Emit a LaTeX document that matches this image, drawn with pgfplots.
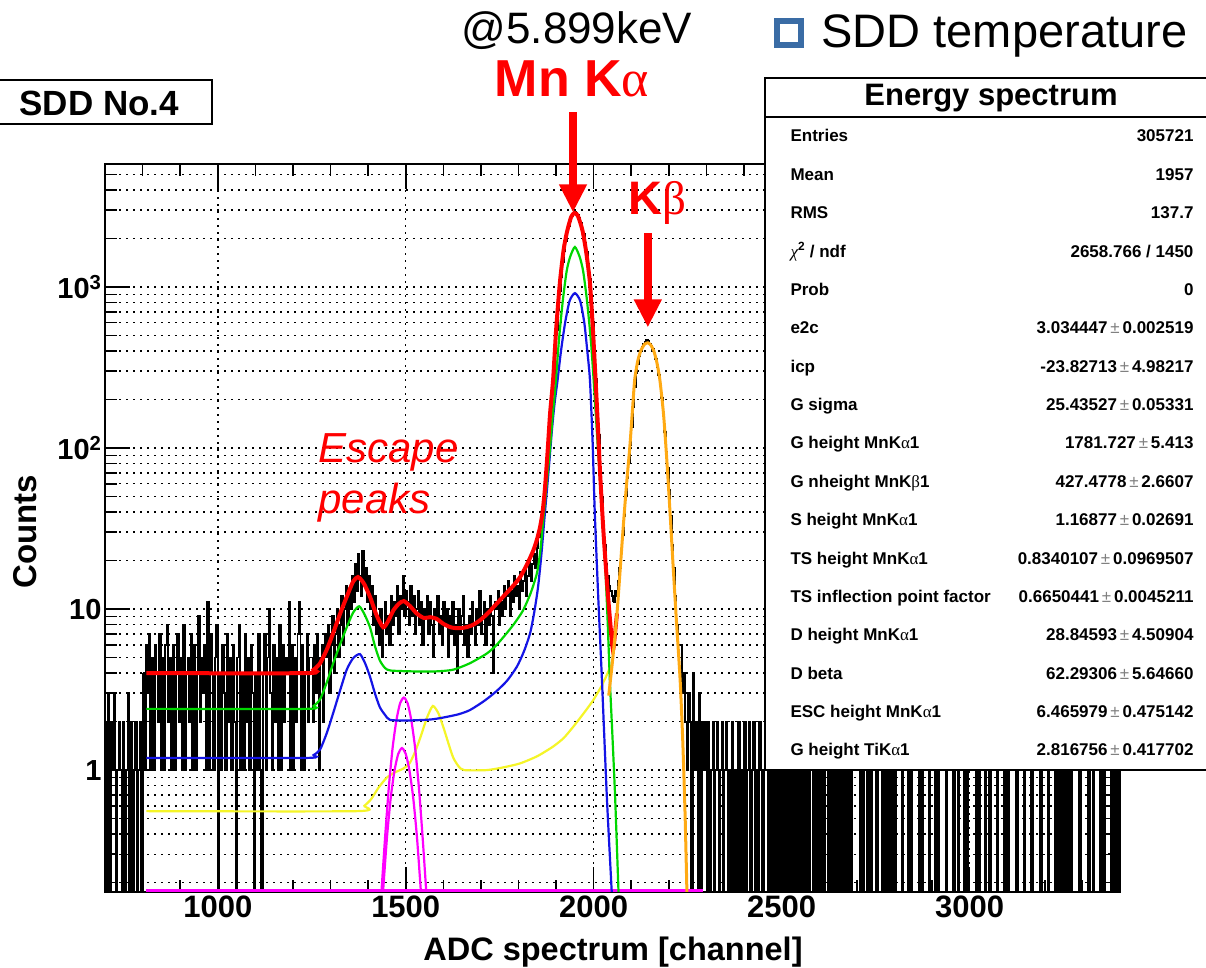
\documentclass[border=0pt]{standalone}
\usepackage{fontspec}
\setmainfont{Liberation Sans}
\newfontfamily\greekfont{Liberation Serif}
\usepackage{pgfplots}
\pgfplotsset{compat=1.18}
\usetikzlibrary{arrows.meta,calc}

\definecolor{rootgreen}{RGB}{0,215,0}
\definecolor{rootblue}{RGB}{20,20,230}
\definecolor{rootyellow}{RGB}{245,245,40}
\definecolor{rootmagenta}{RGB}{255,0,255}
\definecolor{rootorange}{RGB}{255,170,20}
\definecolor{markblue}{RGB}{58,108,165}

\newcommand\statfont{\fontsize{17}{17}\selectfont\bfseries}
\newcommand\pmsym{\,\textcolor{black!50}{\mdseries ±}\,}
\newcommand\ga{{\greekfont\mdseries α}}
\newcommand\gb{{\greekfont\mdseries β}}
\newcommand\srow[3]{%
  \node[anchor=base west, font=\statfont] at (787,{826-38.375*#1}) {#2};%
  \node[anchor=base east, font=\statfont] at (1197,{826-38.375*#1}) {#3};}

\pgfplotsset{hist/.style={black, line width=1.9pt, const plot, mark=none}}
% one block of 4-channel bins starting at channel #1; empty bins are drawn down to the frame
\newcommand\histblock[2]{%
  \addplot[hist] table[header=false, row sep=\\, x expr=#1+4*\coordindex,
    y expr={max(\thisrowno{0},0.05)}] {#2};}

\begin{document}
\begin{tikzpicture}[x=1pt,y=1pt]
\useasboundingbox (0,0) rectangle (1206,968);
\fill[white] (0,0) rectangle (1206,968);

\begin{axis}[
  at={(105pt,76pt)}, anchor=south west,
  scale only axis, width=1015pt, height=728pt,
  xmin=700, xmax=3400,
  ymode=log, ymin=0.175, ymax=5800,
  xtick={1000,1500,2000,2500,3000},
  xticklabels={1000,1500,2000,2500,3000},
  minor xtick={800,900,1100,1200,1300,1400,1600,1700,1800,1900,2100,2200,2300,2400,2600,2700,2800,2900,3100,3200,3300},
  ytick={1,10,100,1000},
  yticklabels={1,10,10\textsuperscript{2},10\textsuperscript{3}},
  minor ytick={0.2,0.3,0.4,0.5,0.6,0.7,0.8,0.9,2,3,4,5,6,7,8,9,20,30,40,50,60,70,80,90,200,300,400,500,600,700,800,900,2000,3000,4000,5000},
  xmajorgrids=true, ymajorgrids=true, yminorgrids=true,
  major grid style={black, line width=1.5pt, dash pattern=on 1.6pt off 5.4pt},
  minor grid style={black, line width=1.5pt, dash pattern=on 1.6pt off 5.4pt},
  axis line style={black, line width=2pt},
  major tick length=25pt, minor tick length=12pt,
  tick style={black, line width=1.6pt},
  xticklabel style={font=\fontsize{31}{31}\selectfont\bfseries},
  yticklabel style={font=\fontsize{29}{29}\selectfont\bfseries},
]

% ---- measured spectrum, 4 channels per bin ----
% 700-796
\histblock{700}{2\\0\\3\\0\\2\\1\\3\\0\\1\\2\\
1\\0\\2\\0\\1\\3\\0\\2\\0\\1\\
2\\0\\1\\2\\0\\4\\}
% 800-1244
\histblock{800}{4\\1\\6\\3\\7\\1\\5\\1\\6\\4\\
2\\7\\1\\5\\1\\6\\8\\2\\5\\1\\
6\\1\\4\\7\\2\\5\\1\\8\\1\\4\\
5\\2\\7\\1\\6\\1\\4\\9\\2\\5\\
3\\6\\1\\11\\1\\7\\4\\1\\5\\8\\
0\\4\\1\\6\\3\\1\\7\\2\\5\\1\\
6\\2\\0\\5\\8\\1\\4\\1\\7\\2\\
5\\1\\6\\3\\0\\4\\1\\7\\1\\0\\
4\\7\\1\\5\\10\\3\\1\\6\\2\\5\\
1\\8\\1\\6\\2\\5\\4\\11\\1\\6\\
1\\5\\2\\7\\11\\1\\6\\1\\4\\7\\
2\\5\\5\\}
% 1248-1420: first escape peak
\histblock{1248}{5\\2\\6\\3\\7\\1\\5\\6\\2\\7\\
5\\8\\3\\6\\9\\4\\7\\10\\5\\8\\
12\\6\\10\\14\\8\\13\\10\\16\\11\\19\\
13\\22\\16\\12\\23\\14\\18\\11\\16\\10\\
14\\8\\12\\7\\9\\}
% 1424-1848
\histblock{1424}{9\\6\\10\\5\\8\\11\\7\\9\\6\\12\\
8\\11\\9\\14\\7\\12\\10\\16\\9\\13\\
11\\8\\14\\9\\12\\7\\10\\13\\8\\11\\
6\\10\\9\\12\\7\\11\\8\\5\\10\\9\\
12\\7\\9\\6\\11\\8\\10\\5\\9\\7\\
11\\6\\8\\4\\10\\7\\9\\12\\6\\8\\
5\\9\\7\\11\\8\\6\\10\\8\\13\\7\\
9\\11\\6\\10\\8\\12\\9\\4\\11\\10\\
13\\8\\11\\9\\14\\10\\12\\15\\9\\13\\
11\\16\\12\\14\\10\\17\\13\\15\\18\\12\\
16\\20\\15\\19\\22\\18\\24\\28\\}
% 1852-2048: Mn K alpha
\histblock{1852}{28\\33\\38\\45\\52\\68\\90\\125\\165\\215\\
275\\390\\540\\720\\940\\1150\\1420\\1680\\1920\\2180\\
2380\\2560\\2740\\2850\\2920\\2870\\2800\\2700\\2480\\2290\\
2130\\1880\\1640\\1380\\1120\\880\\610\\400\\270\\185\\
120\\72\\50\\34\\25\\19\\16\\14\\13\\12\\11\\}
% 2052-2244: Mn K beta
\histblock{2052}{11\\13\\12\\15\\18\\23\\29\\38\\50\\65\\
82\\105\\135\\180\\240\\290\\330\\370\\400\\425\\
440\\455\\470\\460\\445\\430\\410\\390\\355\\320\\
285\\250\\205\\160\\125\\95\\75\\55\\38\\25\\
18\\12\\8\\6\\6\\6\\3\\4\\2\\1\\}
% 2248-3396
\histblock{2248}{1\\3\\2\\0\\4\\1\\2\\0\\3\\0\\2\\1\\2\\
0\\2\\0\\1\\2\\0\\1\\2\\0\\1\\
2\\0\\1\\2\\0\\1\\0\\2\\0\\1\\
0\\2\\0\\1\\0\\2\\0\\1\\2\\0\\
1\\2\\0\\1\\0\\2\\1\\0\\1\\2\\
1\\0\\1\\0\\2\\0\\1\\0\\1\\0\\
1\\0\\2\\0\\1\\0\\1\\0\\2\\0\\
1\\0\\1\\0\\1\\0\\1\\0\\1\\0\\
0\\1\\0\\1\\0\\1\\0\\1\\0\\1\\
1\\0\\1\\0\\1\\0\\1\\0\\1\\0\\
1\\0\\1\\0\\1\\0\\1\\0\\0\\0\\
0\\0\\1\\0\\1\\0\\0\\1\\0\\1\\
0\\0\\0\\1\\0\\0\\0\\1\\0\\1\\
0\\1\\0\\1\\0\\1\\0\\0\\0\\0\\
1\\0\\0\\0\\1\\0\\1\\0\\0\\0\\
0\\1\\0\\1\\0\\0\\0\\0\\1\\0\\
0\\0\\1\\0\\1\\0\\0\\0\\0\\1\\
0\\0\\0\\0\\1\\0\\0\\1\\0\\0\\
0\\1\\0\\1\\0\\0\\0\\0\\0\\1\\
0\\1\\0\\0\\0\\1\\0\\0\\1\\0\\
0\\0\\0\\1\\0\\0\\0\\0\\1\\0\\
1\\0\\0\\0\\0\\0\\1\\0\\0\\0\\
0\\1\\0\\0\\0\\0\\1\\0\\0\\0\\
0\\0\\1\\0\\0\\0\\0\\1\\0\\0\\
0\\0\\1\\0\\1\\0\\1\\0\\1\\0\\
1\\0\\1\\0\\0\\0\\0\\0\\1\\0\\
0\\0\\0\\0\\1\\0\\0\\1\\0\\0\\
0\\0\\1\\0\\1\\0\\0\\0\\0\\1\\
0\\1\\0\\1\\0\\}

% ---- fit components ----
\addplot[rootmagenta, line width=3pt] coordinates {(810,0.18) (2290,0.18)};
\addplot[rootyellow, line width=2.2pt, smooth, tension=0.4] coordinates {
(810,0.556) (1370,0.556) (1390,0.6) (1408,0.66) (1428,0.78) (1450,0.9) (1472,0.97)
(1493,1.02) (1510,1.1) (1525,1.3) (1540,1.62) (1556,2.1) (1572,2.5) (1587,2.25)
(1600,1.85) (1613,1.48) (1626,1.2) (1640,1.06) (1655,1.0) (1716,1.0) (1760,1.04)
(1804,1.1) (1850,1.22) (1892,1.4) (1920,1.58) (1945,1.85) (1970,2.2) (1998,2.7)
(2020,3.3) (2035,3.9) (2046,4.5)};
\addplot[rootmagenta, line width=2.2pt, smooth, tension=0.4] coordinates {
(1435,0.17) (1445,0.38) (1455,0.78) (1465,1.37) (1475,2.03) (1485,2.6) (1495,2.82)
(1505,2.6) (1515,2.03) (1525,1.37) (1535,0.78) (1545,0.38) (1555,0.17)};
\addplot[rootmagenta, line width=2.2pt, smooth, tension=0.4] coordinates {
(1440,0.18) (1450,0.38) (1460,0.67) (1470,0.99) (1480,1.26) (1490,1.37) (1500,1.26)
(1510,0.99) (1520,0.67) (1530,0.38) (1540,0.18)};
\addplot[rootblue, line width=2.2pt, smooth, tension=0.4] coordinates {
(810,1.19) (1237,1.19) (1255,1.24) (1272,1.34) (1290,1.7) (1307,2.26) (1325,3.1)
(1343,4.2) (1360,4.95) (1378,5.25) (1392,4.6) (1405,3.8) (1418,3.0) (1431,2.46)
(1445,2.2) (1458,2.05) (1500,2.03) (1565,2.06) (1600,2.12) (1640,2.22) (1671,2.36)
(1710,2.7) (1742,3.1) (1770,3.6) (1796,4.4) (1815,5.5) (1831,7.1) (1842,9.6)
(1852,13.7) (1861,22) (1870,39) (1880,72) (1889,130) (1896,190) (1904,265)
(1913,400) (1924,600) (1936,820) (1950,915) (1964,820) (1975,600) (1983,400)
(1990,265) (1997,110) (2003,39) (2012,12) (2022,3.6) (2035,0.68) (2048,0.175)};
\addplot[rootgreen, line width=2.2pt, smooth, tension=0.4] coordinates {
(810,2.4) (1237,2.4) (1255,2.5) (1272,2.75) (1290,3.5) (1307,4.6) (1325,6.0)
(1343,7.7) (1360,9.5) (1376,10.4) (1390,9.3) (1405,7.7) (1418,5.9) (1431,4.8)
(1445,4.3) (1460,4.15) (1520,4.1) (1580,4.1) (1626,4.2) (1670,4.6) (1716,5.3)
(1742,6.0) (1769,7.1) (1790,8.2) (1812,9.8) (1832,12.5) (1849,16.7) (1858,23)
(1865,34) (1875,60) (1884,101) (1891,160) (1898,240) (1908,480) (1918,830)
(1928,1250) (1937,1530) (1950,1770) (1963,1530) (1972,1250) (1982,830) (1993,450)
(2001,240) (2010,110) (2020,50) (2030,20) (2037,8.5) (2043,3.6) (2050,1.6)
(2057,0.68) (2066,0.175)};
\addplot[red, line width=4pt, smooth, tension=0.4] coordinates {
(810,4.0) (1237,4.0) (1255,4.2) (1272,4.6) (1290,5.6) (1307,7.1) (1325,9.3)
(1343,11.9) (1360,14.8) (1373,15.8) (1388,14.5) (1405,11.9) (1422,9.2) (1440,7.7)
(1453,8.4) (1467,9.8) (1482,10.8) (1495,11.2) (1512,10.4) (1529,9.4) (1548,8.8)
(1565,8.9) (1582,8.7) (1600,8.1) (1620,7.7) (1640,7.6) (1660,7.7) (1680,8.0)
(1700,8.6) (1720,9.5) (1745,11.0) (1770,12.7) (1790,14.3) (1805,15.9) (1822,18.8)
(1839,23) (1849,27) (1857,32) (1864,40) (1870,55) (1877,92) (1884,164) (1892,265)
(1900,540) (1910,1060) (1920,1700) (1929,2200) (1940,2720) (1949,2880) (1958,2760)
(1970,2250) (1980,1650) (1990,1060) (1998,540) (2005,265) (2011,140) (2017,70)
(2026,30) (2035,15) (2043,8.8) (2051,5.6) (2056,6.8) (2062,9.4)};
\addplot[rootorange, line width=3pt, smooth, tension=0.4] coordinates {
(2040,2.9) (2051,5.0) (2062,9.4) (2070,17) (2078,31) (2087,58) (2096,101)
(2103,170) (2109,265) (2117,345) (2125,400) (2135,440) (2144,450) (2152,435)
(2160,400) (2168,340) (2176,265) (2186,160) (2195,81) (2203,40) (2211,19)
(2220,8.5) (2230,3.6) (2237,1.5) (2243,0.54) (2248,0.175)};

\coordinate (mntip) at (axis cs:1945,2900);
\coordinate (kbtip) at (axis cs:2144,560);
\end{axis}

% ---- peak labels ----
\draw[red, line width=8pt, -{Triangle[width=26pt,length=28pt]}] ($(mntip)+(0,100)$) -- (mntip);
\draw[red, line width=8pt, -{Triangle[width=26pt,length=28pt]}] ($(kbtip)+(0,94)$) -- (kbtip);
\node[anchor=base, font=\fontsize{44}{44}\selectfont] at (577,924) {@5.899keV};
\node[anchor=base, text=red, font=\fontsize{52}{52}\selectfont\bfseries] at (572,871) {Mn K\ga};
\node[anchor=base, text=red, font=\fontsize{47}{47}\selectfont\bfseries] at (657,753) {K\gb};
\node[anchor=base west, text=red, font=\fontsize{42}{42}\selectfont\itshape] at (315,505) {Escape};
\node[anchor=base west, text=red, font=\fontsize{42}{42}\selectfont\itshape] at (315,454) {peaks};

% ---- legend fragment ----
\draw[markblue, line width=6pt, fill=white] (777,923) rectangle (801,947);
\node[anchor=base west, font=\fontsize{47}{47}\selectfont] at (818,920) {SDD temperature};

% ---- histogram title ----
\draw[black, line width=2pt, fill=white] (-3,844) rectangle (212,888);
\node[anchor=base west, font=\fontsize{35}{35}\selectfont\bfseries] at (16,852) {SDD No.4};

% ---- axis titles ----
\node[rotate=90, font=\fontsize{33}{33}\selectfont\bfseries] at (25,436) {Counts};
\node[anchor=base, font=\fontsize{32.5}{32.5}\selectfont\bfseries] at (613,8) {ADC spectrum [channel]};

% ---- statistics box ----
\draw[black, line width=2pt, fill=white] (765,198) rectangle (1216,890);
\draw[black, line width=2pt] (765,851) -- (1216,851);
\node[anchor=base, font=\fontsize{31}{31}\selectfont\bfseries] at (991,862) {Energy spectrum};
\srow{0}{Entries}{305721}
\srow{1}{Mean}{1957}
\srow{2}{RMS}{137.7}
\srow{3}{{\greekfont\itshape\mdseries χ}\textsuperscript{2} / ndf}{2658.766 / 1450}
\srow{4}{Prob}{0}
\srow{5}{e2c}{3.034447\pmsym 0.002519}
\srow{6}{icp}{-23.82713\pmsym 4.98217}
\srow{7}{G sigma}{25.43527\pmsym 0.05331}
\srow{8}{G height MnK\ga 1}{1781.727\pmsym 5.413}
\srow{9}{G nheight MnK\gb 1}{427.4778\pmsym 2.6607}
\srow{10}{S height MnK\ga 1}{1.16877\pmsym 0.02691}
\srow{11}{TS height MnK\ga 1}{0.8340107\pmsym 0.0969507}
\srow{12}{TS inflection point factor}{0.6650441\pmsym 0.0045211}
\srow{13}{D height MnK\ga 1}{28.84593\pmsym 4.50904}
\srow{14}{D beta}{62.29306\pmsym 5.64660}
\srow{15}{ESC height MnK\ga 1}{6.465979\pmsym 0.475142}
\srow{16}{G height TiK\ga 1}{2.816756\pmsym 0.417702}
\end{tikzpicture}
\end{document}
